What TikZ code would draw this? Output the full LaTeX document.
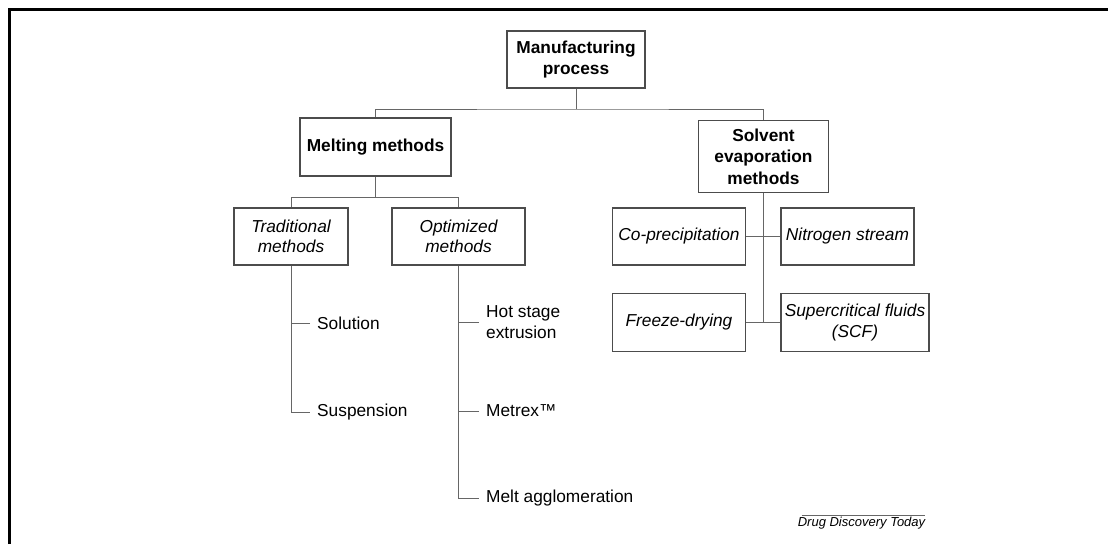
\documentclass[tikz,border=0pt]{standalone}
\usepackage{fontspec}
\setmainfont{Liberation Sans}
\usepackage{tikz}
\usetikzlibrary{
  calc,
  positioning
}
\tikzset{>=stealth}
\tikzset{
  box/.style={draw=black!70, line width=1.2pt, inner sep=0pt, align=center,
    font=\fontsize{17.3}{21.5}\selectfont},
  boldbox/.style={box, font=\fontsize{17.3}{21.5}\selectfont\bfseries},
  itbox/.style={box, font=\fontsize{17.3}{20.5}\selectfont\itshape},
  leaf/.style={anchor=west, inner xsep=7pt, inner ysep=0pt, align=left,
    font=\fontsize{17.3}{21}\selectfont},
  link/.style={draw=black!60, line width=1pt}
}

\begin{document}
\begin{tikzpicture}[x=1pt,y=-1pt]
				\useasboundingbox (0,0) rectangle (1108,544);
				\draw[line width=2.5pt] (9.5,544) -- (9.5,9.5) -- (1108,9.5);
				% boxes
				\node[boldbox, minimum width=138pt, minimum height=57pt] (mp) at (576,59.5) {Manufacturing\\process};
				\node[boldbox, minimum width=151pt, minimum height=58pt] (mm) at (375.5,147) {Melting methods};
				\node[boldbox, minimum width=130pt, minimum height=72pt] (se) at (763.5,156.5) {Solvent\\evaporation\\methods};
				\node[itbox, minimum width=114pt, minimum height=57pt] (tm) at (291,236.5) {Traditional\\methods};
				\node[itbox, minimum width=133pt, minimum height=57pt] (om) at (458.5,236.5) {Optimized\\methods};
				\node[itbox, minimum width=133pt, minimum height=57pt] (cp) at (679,236.5) {Co-precipitation};
				\node[itbox, minimum width=133pt, minimum height=57pt] (ns) at (847.5,236.5) {Nitrogen stream};
				\node[itbox, minimum width=133pt, minimum height=58pt] (fd) at (679,322.5) {Freeze-drying};
				\node[itbox, minimum width=148pt, minimum height=58pt] (scf) at (855,322.5) {Supercritical fluids\\(SCF)};
				% leaves
				\node[leaf] (sol) at (310,323) {Solution};
				\node[leaf] (sus) at (310,412) {Suspension};
				\node[leaf] (hse) at (479,322.5) {Hot stage\\extrusion};
				\node[leaf] (met) at (479,411) {Metrex™};
				\node[leaf] (mag) at (479,498) {Melt agglomeration};
				% links
				\coordinate (top) at (576,109);
				\draw[link] (mp.south) -- (top);
				\draw[link] (mm.north) |- (top) -| (se.north);
				\draw[link] (mm.south) -- ++(0,21) coordinate (mmj);
				\draw[link] (tm.north) |- (mmj) -| (om.north);
				\draw[link] (tm.south) |- (sus.west);
				\draw[link] (sol.west) -- (sol.west -| tm.south);
				\draw[link] (om.south) |- (mag.west);
				\draw[link] (hse.west) -- (hse.west -| om.south);
				\draw[link] (met.west) -- (met.west -| om.south);
				\draw[link] (se.south) -- (se.south |- fd.east);
				\draw[link] (cp.east) -- (ns.west);
				\draw[link] (fd.east) -- (scf.west);
				% source
				\node[font=\fontsize{13}{15}\selectfont\itshape, inner sep=0pt] (ddt) at (861.5,523.5) {Drug Discovery Today};
				\draw[link, line width=0.6pt] ($(ddt.north west)+(4,-2)$) -- ($(ddt.north east)+(0,-2)$);
			\end{tikzpicture}
\end{document}
